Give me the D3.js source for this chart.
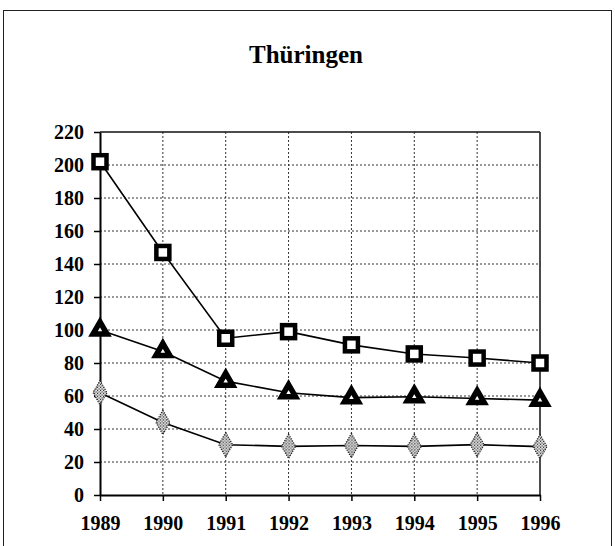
<!DOCTYPE html>
<html><head><meta charset="utf-8">
<script src="https://cdn.jsdelivr.net/npm/d3@7"></script>
<style>body{margin:0;background:#fff}svg{display:block}</style>
</head><body>
<script>
const title = "Thüringen";
const years = ["1989","1990","1991","1992","1993","1994","1995","1996"];
const squareSeries = [202, 147, 95, 99, 91, 85.5, 83, 80];
const triangleSeries = [100, 87, 69, 62, 59, 59.5, 58.5, 57.5];
const diamondSeries = [62, 44, 30.5, 29.5, 30, 29.5, 30.5, 29.3];
const yTicks = [0,20,40,60,80,100,120,140,160,180,200,220];

const W = 615, H = 546;
const m = {left:100, right:540, top:132, bottom:495};
const svg = d3.select("body").append("svg").attr("width",W).attr("height",H);

const defs = svg.append("defs");
const pat = defs.append("pattern").attr("id","stip").attr("width",3).attr("height",3).attr("patternUnits","userSpaceOnUse");
pat.append("rect").attr("width",3).attr("height",3).attr("fill","#fff");
pat.append("rect").attr("width",1.2).attr("height",1.2).attr("fill","#000");
pat.append("rect").attr("x",1.5).attr("y",1.5).attr("width",1.2).attr("height",1.2).attr("fill","#000");

// outer frame
svg.append("rect").attr("x",3.5).attr("y",10.5).attr("width",608).attr("height",545)
  .attr("fill","none").attr("stroke","#222").attr("stroke-width",1);

const font = "Liberation Serif, Times New Roman, serif";
svg.append("text").attr("x",306).attr("y",63).attr("text-anchor","middle")
  .attr("font-family",font).attr("font-weight","bold")
  .attr("font-size",25).text(title);

const x = d3.scalePoint().domain(years).range([m.left, m.right]).padding(0);
const y = d3.scaleLinear().domain([0,220]).range([m.bottom, m.top]);

// grid
const g = svg.append("g");
g.selectAll("line.hg").data(yTicks.filter(d=>d>0 && d<220)).join("line")
  .attr("x1",m.left).attr("x2",m.right).attr("y1",d=>y(d)).attr("y2",d=>y(d))
  .attr("stroke","#333").attr("stroke-width",1).attr("stroke-dasharray","2,2");
g.selectAll("line.vg").data(years.slice(1,-1)).join("line")
  .attr("x1",d=>x(d)).attr("x2",d=>x(d)).attr("y1",m.top).attr("y2",m.bottom)
  .attr("stroke","#333").attr("stroke-width",1).attr("stroke-dasharray","2,2");

// frame top/right
svg.append("line").attr("x1",m.left).attr("x2",m.right).attr("y1",m.top).attr("y2",m.top).attr("stroke","#111").attr("stroke-width",1.5);
svg.append("line").attr("x1",m.right).attr("x2",m.right).attr("y1",m.top).attr("y2",m.bottom).attr("stroke","#111").attr("stroke-width",1.5);

const yAxis = svg.append("g").attr("transform",`translate(${m.left},0)`)
  .call(d3.axisLeft(y).tickValues(yTicks).tickSize(6).tickSizeOuter(0).tickPadding(10));
const xAxis = svg.append("g").attr("transform",`translate(0,${m.bottom})`)
  .call(d3.axisBottom(x).tickSize(6).tickSizeOuter(0).tickPadding(15));
[yAxis,xAxis].forEach(a=>{
  a.selectAll("path.domain").attr("stroke","#000").attr("stroke-width",2);
  a.selectAll(".tick line").attr("stroke","#000").attr("stroke-width",1.5);
  a.selectAll("text").attr("font-family",font).attr("font-weight","bold").attr("font-size",20).attr("fill","#000");
});

const line = d3.line().x((d,i)=>x(years[i])).y(d=>y(d));
[squareSeries, triangleSeries, diamondSeries].forEach(s=>{
  svg.append("path").datum(s).attr("d",line).attr("fill","none").attr("stroke","#000").attr("stroke-width",1.6);
});

// markers
svg.selectAll("rect.sq").data(squareSeries).join("rect")
  .attr("x",(d,i)=>x(years[i])-6.5).attr("y",d=>y(d)-6.5).attr("width",13).attr("height",13)
  .attr("fill","#fff").attr("stroke","#000").attr("stroke-width",4.5);
const tri = d3.symbol().type(d3.symbolTriangle).size(85);
svg.selectAll("path.tri").data(triangleSeries).join("path")
  .attr("transform",(d,i)=>`translate(${x(years[i])},${y(d)})`)
  .attr("d",tri).attr("fill","#fff").attr("stroke","#000").attr("stroke-width",5.5).attr("stroke-linejoin","miter");
const dia = d3.symbol().type(d3.symbolDiamond).size(170);
svg.selectAll("path.dia").data(diamondSeries).join("path")
  .attr("transform",(d,i)=>`translate(${x(years[i])},${y(d)})`)
  .attr("d",dia).attr("fill","url(#stip)").attr("stroke","#222").attr("stroke-width",1.2).attr("stroke-dasharray","1.2,1.2");
</script>
</body></html>
